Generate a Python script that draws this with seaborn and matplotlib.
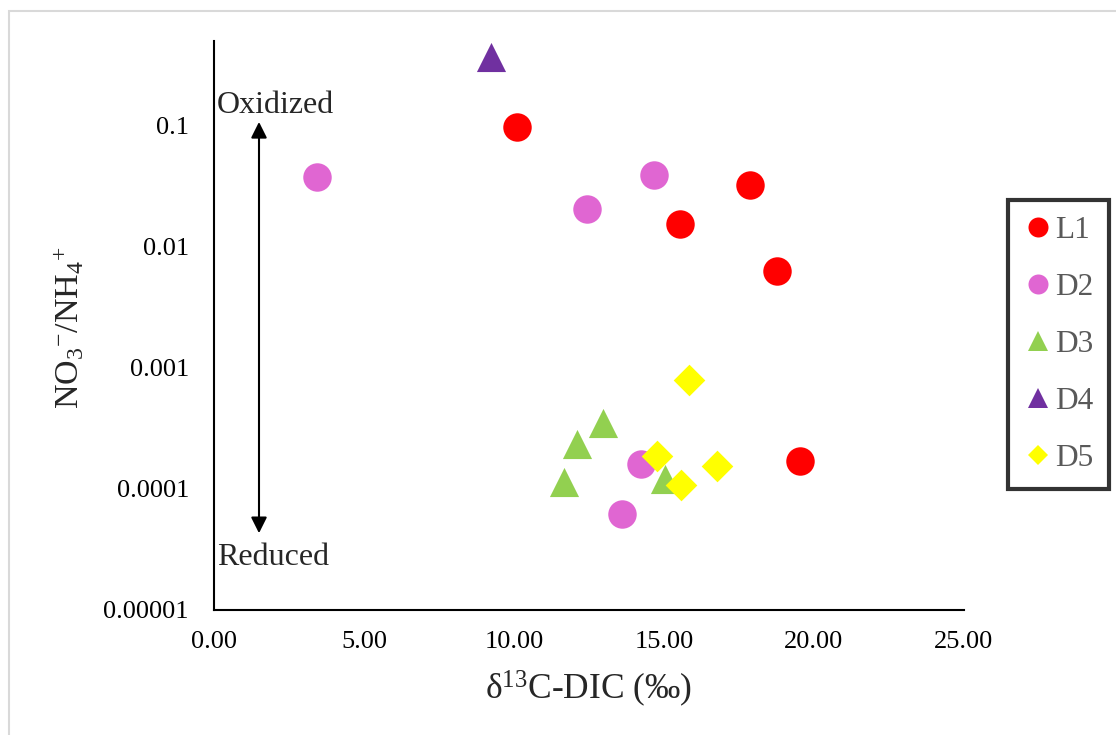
import matplotlib
matplotlib.use("Agg")
import matplotlib.pyplot as plt
import seaborn as sns
import pandas as pd
from matplotlib.patches import Rectangle
from matplotlib.lines import Line2D

# ---- data ----
series_names = ["L1", "D2", "D3", "D4", "D5"]
L1_x = [10.1, 17.87, 15.53, 18.77, 19.53]
L1_y = [0.096, 0.032, 0.0153, 0.00625, 0.00017]
D2_x = [3.43, 14.67, 12.43, 14.23, 13.6]
D2_y = [0.0373, 0.0387, 0.0203, 0.00016, 0.000062]
D3_x = [11.67, 12.1, 12.97, 15.03]
D3_y = [0.000114, 0.000234, 0.00035, 0.00012]
D4_x = [9.23]
D4_y = [0.363]
D5_x = [15.83, 14.77, 15.57, 16.77]
D5_y = [0.00079, 0.000186, 0.000108, 0.000155]

x_ticks = [0, 5, 10, 15, 20, 25]
x_tick_labels = ["0.00", "5.00", "10.00", "15.00", "20.00", "25.00"]
y_ticks = [1e-5, 1e-4, 1e-3, 1e-2, 1e-1]
y_tick_labels = ["0.00001", "0.0001", "0.001", "0.01", "0.1"]

arrow_x = 1.5
arrow_top = 0.106
arrow_bottom = 4.3e-5
oxidized_y = 0.126
reduced_y = 2.36e-5

colors = {"L1": "#FF0000", "D2": "#E066D2", "D3": "#92D050", "D4": "#7030A0", "D5": "#FFFF00"}
markers = {"L1": "o", "D2": "o", "D3": "^", "D4": "^", "D5": "D"}
sizes = {"L1": 420, "D2": 420, "D3": 440, "D4": 440, "D5": 260}
leg_sizes = {"L1": 14.4, "D2": 14.4, "D3": 14.4, "D4": 14.4, "D5": 10}

frames = []
for name, xs, ys in [("L1", L1_x, L1_y), ("D2", D2_x, D2_y), ("D3", D3_x, D3_y),
                     ("D4", D4_x, D4_y), ("D5", D5_x, D5_y)]:
    frames.append(pd.DataFrame({"x": xs, "y": ys, "site": name}))
df = pd.concat(frames, ignore_index=True)

sns.set_style("white")
plt.rcParams["font.family"] = ["Liberation Serif", "DejaVu Serif"]
plt.rcParams["mathtext.fontset"] = "custom"
plt.rcParams["mathtext.rm"] = "Liberation Serif"
plt.rcParams["mathtext.it"] = "Liberation Serif:italic"

fig = plt.figure(figsize=(11.16, 7.35), dpi=100)
ax = fig.add_axes([214 / 1116, 1 - 610 / 735, 750 / 1116, (610 - 41) / 735])

# outer light frame
fig.patches.append(Rectangle((8.5 / 1116, -0.1), 1.2, 1.1 - 11 / 735,
                             transform=fig.transFigure, fill=False,
                             edgecolor="#D9D9D9", linewidth=1.5))

for name in series_names:
    sub = df[df["site"] == name]
    sns.scatterplot(data=sub, x="x", y="y", color=colors[name], marker=markers[name],
                    s=sizes[name], linewidth=0, ax=ax, zorder=3, legend=False)

ax.set_yscale("log")
ax.set_xlim(0, 25)
ax.set_ylim(1e-5, 0.493)
ax.set_xticks(x_ticks)
ax.set_xticklabels(x_tick_labels)
ax.set_yticks(y_ticks)
ax.set_yticklabels(y_tick_labels)
ax.minorticks_off()
ax.tick_params(axis="both", direction="in", length=5.5, width=1.4, labelsize=19,
               colors="black")
ax.tick_params(axis="y", pad=18)
ax.tick_params(axis="x", pad=15)

for s in ["top", "right"]:
    ax.spines[s].set_visible(False)
for s in ["left", "bottom"]:
    ax.spines[s].set_color("black")
    ax.spines[s].set_linewidth(1.5)

ax.set_xlabel(r"δ$^{13}$C-DIC (‰)", fontsize=25.5)
ax.set_ylabel(r"NO$_3$$^{-}$/NH$_4$$^{+}$", fontsize=24.5)
ax.xaxis.set_label_coords(0.5, -(689 - 610) / 569)
ax.xaxis.label.set_va("center")
ax.yaxis.set_label_coords(-(214 - 68) / 750, (610 - 328) / 569)
ax.yaxis.label.set_va("center")

# arrow and annotations
ax.annotate("", xy=(arrow_x, arrow_top), xytext=(arrow_x, arrow_bottom),
            arrowprops=dict(arrowstyle="<|-|>", color="black", lw=1.5,
                            mutation_scale=24, shrinkA=0, shrinkB=0))
ax.text(0.1, oxidized_y, "Oxidized", fontsize=23, ha="left", va="baseline")
ax.text(0.1, reduced_y, "Reduced", fontsize=23, ha="left", va="baseline")

# legend
handles = [Line2D([0], [0], marker=markers[n], color="none", markerfacecolor=colors[n],
                  markeredgewidth=0, markersize=leg_sizes[n]) for n in series_names]
leg = fig.legend(handles, series_names, loc="upper left",
                 bbox_to_anchor=(1008 / 1116, 1 - 200 / 735), frameon=True,
                 fontsize=22.5, labelspacing=0.9, handlelength=0.95, handletextpad=0.05,
                 borderpad=0.5, borderaxespad=0, fancybox=False, labelcolor="#595959")
leg.get_frame().set_edgecolor("black")
leg.get_frame().set_linewidth(3)

fig.savefig("out.png", dpi=100)
